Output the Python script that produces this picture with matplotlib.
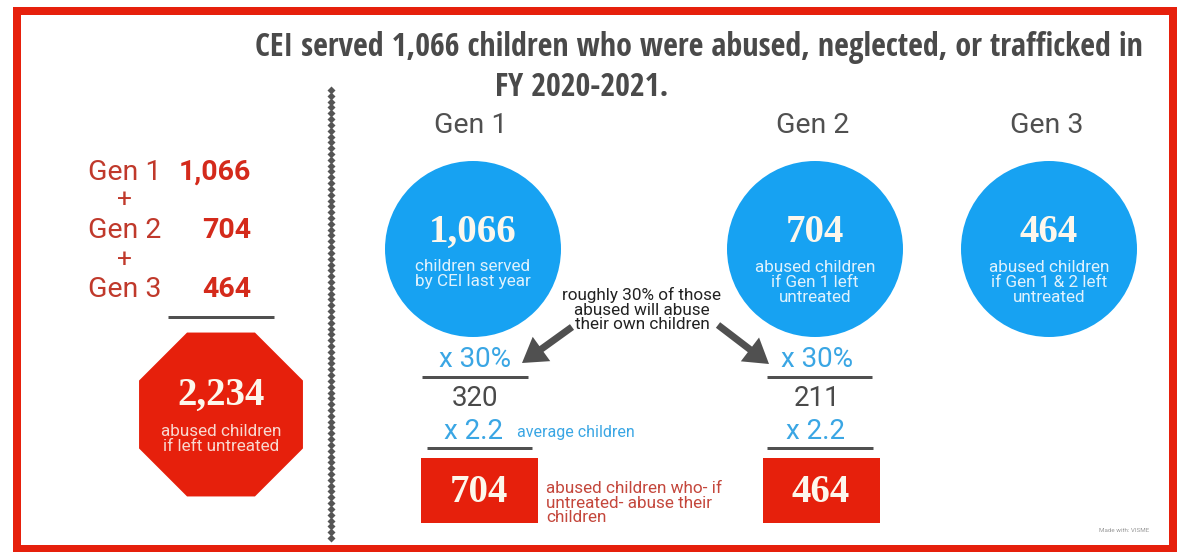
import numpy as np
import matplotlib
matplotlib.use('Agg')
import matplotlib.pyplot as plt
from matplotlib import font_manager as fm
from matplotlib.patches import Circle, Rectangle, RegularPolygon

title_lines = ['CEI served 1,066 children who were abused, neglected, or trafficked in',
               'FY 2020-2021.']
gen_labels = ['Gen 1', 'Gen 2', 'Gen 3']
gen_counts = [1066, 704, 464]
total_count = 2234
total_note = ['abused children', 'if left untreated']
circle_notes = [['children served', 'by CEI last year'],
                ['abused children', 'if Gen 1 left', 'untreated'],
                ['abused children', 'if Gen 1 & 2 left', 'untreated']]
abuse_rate = '30%'
avg_children = '2.2'
abusers = [320, 211]
next_gen = [704, 464]
arrow_note = ['roughly 30% of those', 'abused will abuse', 'their own children']
box_note = ['abused children who- if', 'untreated- abuse their', 'children']
avg_note = 'average children'
credit = 'Made with: VISME'

# colours
RED = '#e6200c'
DARKRED = '#c0392b'
BLUE = '#17a2f2'
LBLUE = '#3aa6e4'
GREY = '#505050'
CREAM = '#fdf7ec'

SANS = ['Roboto', 'DejaVu Sans']
SERIF = ['Liberation Serif', 'DejaVu Serif']

# title wants a narrow bold face; take one if installed, else Open Sans
installed = {f.name for f in fm.fontManager.ttflist}
TITLE = ['Open Sans', 'DejaVu Sans']
for fam in ['Liberation Sans Narrow', 'Open Sans Condensed', 'Roboto Condensed',
            'DejaVu Sans Condensed']:
    if fam in installed:
        TITLE = [fam, 'DejaVu Sans']
        break

W, H = 1180, 552
fig = plt.figure(figsize=(W / 100, H / 100), dpi=100)
fig.set_facecolor('w')
ax = fig.add_axes([0, 0, 1, 1])
ax.set_xlim(0, W)
ax.set_ylim(H, 0)
ax.axis('off')

px = 0.72  # points per pixel at dpi 100

# red frame
ax.add_patch(Rectangle((17, 11), 1156, 538, fill=False, edgecolor=RED, lw=8 * px))

# title, sized so the first line spans the same width as the reference
t1 = ax.text(699, 56, title_lines[0], ha='center', va='baseline', fontsize=21.5,
             family=TITLE, weight='bold', color='#4a4a4a')
renderer = fig.canvas.get_renderer()
w1 = t1.get_window_extent(renderer).width
tsize = min(24, 21.5 * 890 / w1)
t1.set_fontsize(tsize)
ax.text(582, 96, title_lines[1], ha='center', va='baseline', fontsize=tsize,
        family=TITLE, weight='bold', color='#4a4a4a')

# dotted divider
yd = np.linspace(90, 538, 78)
ax.plot(np.full_like(yd, 331), yd, 'D', ms=4.0, color='#555555', mec='none')

# left summary column
left_base = [180, 238, 297]
for lab, cnt, yb in zip(gen_labels, gen_counts, left_base):
    ax.text(88, yb, lab, ha='left', va='baseline', fontsize=20.5, family=SANS, color=DARKRED)
    ax.text(251, yb, f'{cnt:,}', ha='right', va='baseline', fontsize=20.5, family=SANS,
            weight='bold', color='#d42a1b')
for yp in [200, 260]:
    ax.text(124, yp, '+', ha='center', va='center', fontsize=19, family=SANS,
            color=DARKRED)
ax.plot([168, 274], [317, 317], color=GREY, lw=3 * px, solid_capstyle='butt')

ax.add_patch(RegularPolygon((221, 414.5), 8, radius=88.7, orientation=np.pi / 8,
                            facecolor=RED, edgecolor='none'))
ax.text(221, 405, f'{total_count:,}', ha='center', va='baseline', fontsize=28,
        family=SERIF, weight='bold', color=CREAM)
for line, yb in zip(total_note, [436, 451]):
    ax.text(221, yb, line, ha='center', va='baseline', fontsize=12.3, family=SANS,
            color='#f8d8d0')

# generation circles
circ_x = [473, 815, 1049]
for i, (lab, cnt, notes, cx) in enumerate(zip(gen_labels, gen_counts, circle_notes, circ_x)):
    ax.text(cx - 2, 133, lab, ha='center', va='baseline', fontsize=20.5, family=SANS,
            color=GREY)
    ax.add_patch(Circle((cx, 249), 88, facecolor=BLUE, edgecolor='none'))
    ax.text(cx, 242, f'{cnt:,}', ha='center', va='baseline', fontsize=28,
            family=SERIF, weight='bold', color=CREAM)
    bases = [271, 286] if len(notes) == 2 else [272, 287, 302]
    for line, yb in zip(notes, bases):
        ax.text(cx, yb, line, ha='center', va='baseline', fontsize=12.3, family=SANS,
                color='#dff2fd')

# arrow annotation
for line, yb in zip(arrow_note, [300, 315, 329]):
    ax.text(642, yb, line, ha='center', va='baseline', fontsize=12.3, family=SANS,
            color='#222222')
for (x0, y0), (x1, y1) in [((572, 327), (522, 363)), ((718, 325), (769, 364))]:
    ax.arrow(x0, y0, x1 - x0, y1 - y0, width=7, head_width=30, head_length=24,
             length_includes_head=True, color='#505050', lw=0)

# multiplication columns
col_x = [475, 817]
box_x = [421, 763]
rule1 = [(422, 528), (767, 872)]
rule2 = [(427, 532), (767, 873)]
for cx, bx, r1, r2, ab, ng in zip(col_x, box_x, rule1, rule2, abusers, next_gen):
    ax.text(cx, 367, 'x ' + abuse_rate, ha='center', va='baseline', fontsize=20,
            family=SANS, color=LBLUE)
    ax.plot(r1, [377, 377], color=GREY, lw=3 * px, solid_capstyle='butt')
    ax.text(cx, 406, f'{ab}', ha='center', va='baseline', fontsize=20, family=SANS,
            color='#4a4a4a')
    ax.text(cx - 2, 439, 'x ' + avg_children, ha='center', va='baseline', fontsize=20,
            family=SANS, color=LBLUE)
    ax.plot(r2, [448, 448], color=GREY, lw=3 * px, solid_capstyle='butt')
    ax.add_patch(Rectangle((bx, 458), 117, 65, facecolor=RED, edgecolor='none'))
    ax.text(bx + 58, 502, f'{ng:,}', ha='center', va='baseline', fontsize=28,
            family=SERIF, weight='bold', color=CREAM)

ax.text(517, 437, avg_note, ha='left', va='baseline', fontsize=11.5, family=SANS,
        color=LBLUE)
for line, yb in zip(box_note, [493, 508, 522]):
    ax.text(546, yb, line, ha='left', va='baseline', fontsize=12.3, family=SANS,
            color='#c4473c')

ax.text(1124, 532, credit, ha='center', va='baseline', fontsize=4.5, family=SANS,
        color='#999999')

fig.savefig('out.png', dpi=100, facecolor='w')
